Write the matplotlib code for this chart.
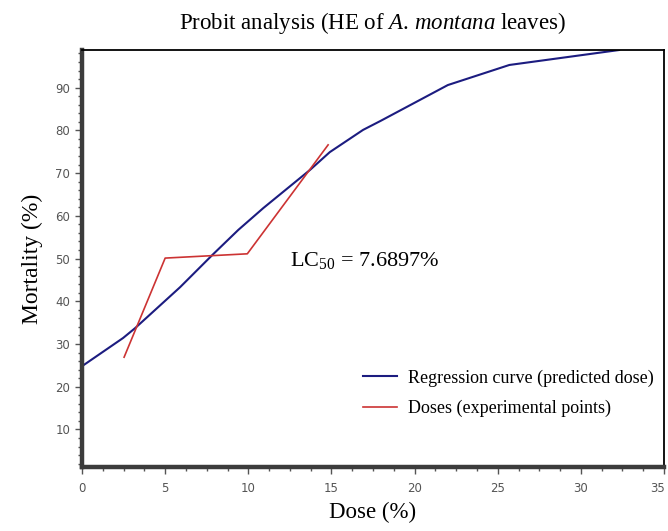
import matplotlib
matplotlib.use("Agg")
import matplotlib.pyplot as plt
from matplotlib.ticker import MultipleLocator
from matplotlib.transforms import ScaledTranslation

plt.rcParams['mathtext.fontset'] = 'custom'
plt.rcParams['mathtext.rm'] = 'Liberation Serif'
plt.rcParams['mathtext.it'] = 'Liberation Serif:italic'

# regression curve (predicted dose)
reg_dose = [0, 2.47, 3.19, 5.9, 7.83, 9.4, 10.9, 13.7, 14.9, 16.9, 17.95, 22.0, 25.7, 32.3]
reg_mort = [24.8, 31.4, 33.7, 43.3, 50.8, 56.7, 61.8, 70.7, 74.9, 80.1, 82.2, 90.6, 95.3, 98.8]

# experimental points
exp_dose = [2.53, 5.0, 9.94, 14.8]
exp_mort = [26.9, 50.1, 51.1, 76.6]

x_ticks = [0, 5, 10, 15, 20, 25, 30, 35]
y_ticks = [10, 20, 30, 40, 50, 60, 70, 80, 90]

serif = 'Liberation Serif'
tick_col = '#555555'

fig = plt.figure(figsize=(6.68, 5.31), dpi=100)
ax = fig.add_axes([0.1228, 0.1205, 0.8712, 0.7853])

ax.plot(reg_dose, reg_mort, color='#1c1c80', lw=1.5,
        label='Regression curve (predicted dose)')
ax.plot(exp_dose, exp_mort, color='#cc3333', lw=1.2,
        label='Doses (experimental points)')

ax.set_xlim(0, 35)
ax.set_ylim(1.2, 98.8)
ax.set_xticks(x_ticks)
ax.set_yticks(y_ticks)
ax.xaxis.set_minor_locator(MultipleLocator(1.25))
ax.yaxis.set_minor_locator(MultipleLocator(2))

ax.tick_params(which='major', length=5, width=1, color=tick_col,
               labelcolor=tick_col, labelsize=8.5)
ax.tick_params(which='minor', length=3, width=1, color=tick_col)
ax.tick_params(axis='x', pad=6)

# last x label sits a little left so it stays inside
last = ax.get_xticklabels()[-1]
last.set_transform(last.get_transform() + ScaledTranslation(-0.06, 0, fig.dpi_scale_trans))

ax.spines['left'].set_linewidth(3.2)
ax.spines['left'].set_color('#3c3c3c')
ax.spines['bottom'].set_linewidth(3.2)
ax.spines['bottom'].set_color('#3c3c3c')
ax.spines['top'].set_linewidth(1.3)
ax.spines['right'].set_linewidth(1.3)

fig.text(0.557, 0.957, r'Probit analysis (HE of $\mathit{A.\,montana}$ leaves)',
         ha='center', va='center', fontsize=16.5, family=serif)
ax.set_xlabel('Dose (%)', fontsize=16.5, family=serif, labelpad=5)
ax.set_ylabel('Mortality (%)', fontsize=17, family=serif, labelpad=9)

ax.text(12.5, 49.5, r'LC$_{50}$ = 7.6897%', fontsize=16, family=serif,
        va='center', ha='left')

leg = ax.legend(loc='lower right', bbox_to_anchor=(1.01, 0.08), frameon=False,
                prop={'family': serif, 'size': 13}, handlelength=1.9,
                handletextpad=0.6, labelspacing=0.75)

fig.savefig('out.png', dpi=100)
